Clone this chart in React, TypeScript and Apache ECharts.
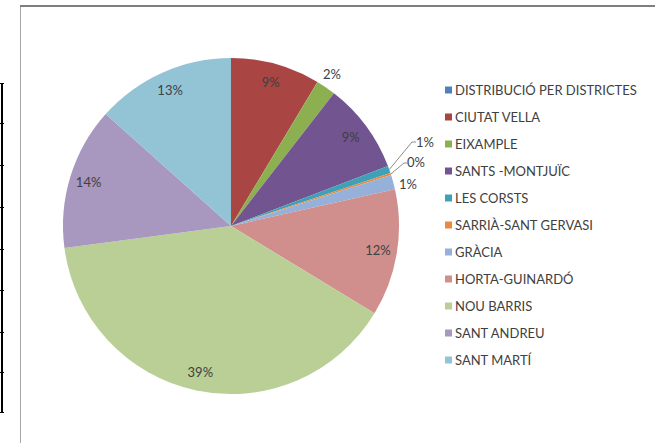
import React, { useEffect, useRef } from "react";
import * as echarts from "echarts";

const categories = [
  "DISTRIBUCIÓ PER DISTRICTES",
  "CIUTAT VELLA",
  "EIXAMPLE",
  "SANTS -MONTJUÏC",
  "LES CORSTS",
  "SARRIÀ-SANT GERVASI",
  "GRÀCIA",
  "HORTA-GUINARDÓ",
  "NOU BARRIS",
  "SANT ANDREU",
  "SANT MARTÍ",
];
const values = [0, 86, 19, 87, 7, 2, 14, 122, 392, 137, 134];
const colors = [
  "#4F81BD",
  "#A94543",
  "#8CB050",
  "#715490",
  "#3FA1B8",
  "#E98A3E",
  "#95B1D9",
  "#D08F8D",
  "#B9CF96",
  "#A897BE",
  "#93C4D6",
];
// which slices carry their label inside (true) or outside (false); zero slice hidden
const insideLabel = [false, true, false, true, false, false, false, true, true, true, true];
const outsideLine = [false, false, false, false, true, true, false, false, false, false, false];

const total = values.reduce((a, b) => a + b, 0);
const pct = (v: number) => Math.round((v / total) * 100) + "%";

const FONT = "Lato, 'Open Sans', sans-serif";
const TXT = "#404040";

export default function App() {
  const ref = useRef<HTMLDivElement>(null);
  useEffect(() => {
    if (!ref.current) return;
    const chart = echarts.init(ref.current, undefined, { renderer: "svg" });
    const cx = 231;
    const cy = 226;
    const R = 168;

    // edge point at the middle angle of each slice (clockwise from 12 o'clock)
    const edgePoint = (i: number) => {
      let before = 0;
      for (let k = 0; k < i; k++) before += values[k];
      const th = ((before + values[i] / 2) / total) * Math.PI * 2;
      return [cx + R * Math.sin(th), cy - R * Math.cos(th)];
    };

    // outside label placement offsets (elbow / text anchor), Excel-like
    const outsideLayout: Record<number, { elbow?: number[]; text: number[] }> = {
      2: { text: [323, 74] },
      4: { elbow: [412, 142], text: [416, 142] },
      5: { elbow: [404, 163], text: [407, 162] },
      6: { text: [399, 184] },
    };

    const mainData = categories.map((name, i) => ({
      name,
      value: values[i],
      itemStyle: { color: colors[i] },
      label: {
        show: i !== 0 && !insideLabel[i],
      },
      labelLine: {
        show: outsideLine[i],
        length: 10,
        length2: 8,
      },
    }));

    const overlayData = categories.map((name, i) => ({
      name,
      value: values[i],
      itemStyle: { color: "transparent" },
      label: { show: insideLabel[i] },
    }));

    chart.setOption({
      animation: false,
      backgroundColor: "#ffffff",
      legend: {
        orient: "vertical",
        left: 445,
        top: 83,
        padding: 0,
        itemWidth: 7,
        itemHeight: 7,
        itemGap: 13,
        icon: "rect",
        selectedMode: false,
        data: categories,
        textStyle: {
          color: TXT,
          fontFamily: FONT,
          fontSize: 13,
          lineHeight: 14,
          padding: [0, 0, 0, -2],
        },
      },
      graphic: [
        {
          type: "rect",
          shape: { x: 20.5, y: 6.5, width: 800, height: 600 },
          style: { fill: "none", stroke: "#a6a6a6", lineWidth: 1 },
          silent: true,
        },
        {
          type: "line",
          shape: { x1: 20, y1: 6, x2: 655, y2: 6 },
          style: { stroke: "#7f7f7f", lineWidth: 2 },
          silent: true,
        },
        {
          type: "line",
          shape: { x1: 2, y1: 83, x2: 2, y2: 412 },
          style: { stroke: "#000", lineWidth: 2 },
          silent: true,
        },
        ...[83, 123, 165, 207, 249, 290, 332, 372, 412].map((y) => ({
          type: "line",
          shape: { x1: 0, y1: y + 0.5, x2: 4, y2: y + 0.5 },
          style: { stroke: "#000", lineWidth: 1 },
          silent: true,
        })),
      ],
      series: [
        {
          type: "pie",
          center: [cx, cy],
          radius: [0, R],
          startAngle: 90,
          clockwise: true,
          avoidLabelOverlap: false,
          minShowLabelAngle: 0,
          stillShowZeroSum: true,
          itemStyle: { borderWidth: 0 },
          emphasis: { disabled: true },
          data: mainData,
          label: {
            position: "outside",
            formatter: (p: any) => pct(p.value),
            color: TXT,
            fontFamily: FONT,
            fontSize: 13,
          },
          labelLine: {
            lineStyle: { color: "#8c8c8c", width: 1 },
          },
          labelLayout: (p: any) => {
            const lay = outsideLayout[p.dataIndex];
            if (!lay) return {};
            const res: any = {
              x: lay.text[0],
              y: lay.text[1],
              align: "left",
              verticalAlign: "middle",
            };
            if (lay.elbow) {
              res.labelLinePoints = [
                edgePoint(p.dataIndex),
                lay.elbow,
                [lay.text[0], lay.elbow[1]],
              ];
            }
            return res;
          },
        },
        {
          type: "pie",
          center: [cx, cy],
          radius: [124, R],
          startAngle: 90,
          clockwise: true,
          silent: true,
          avoidLabelOverlap: false,
          itemStyle: { borderWidth: 0 },
          emphasis: { disabled: true },
          data: overlayData,
          label: {
            position: "inside",
            formatter: (p: any) => pct(p.value),
            color: TXT,
            fontFamily: FONT,
            fontSize: 13,
          },
          labelLine: { show: false },
        },
      ],
    });
    return () => chart.dispose();
  }, []);
  return (
    <div
      ref={ref}
      style={{ position: "fixed", left: 0, top: 0, width: 655, height: 443 }}
    />
  );
}
